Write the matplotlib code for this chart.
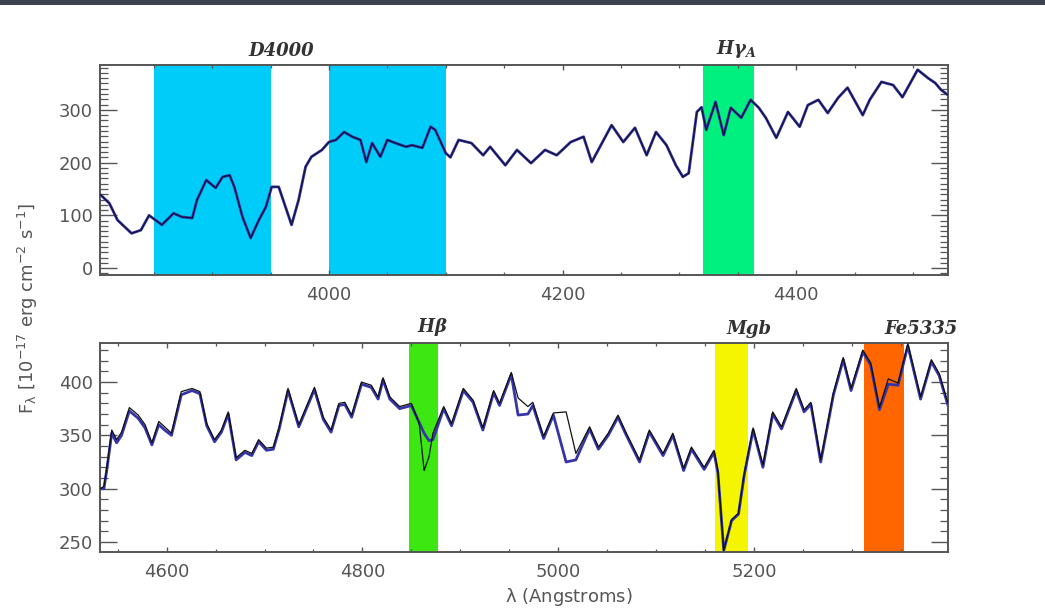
import matplotlib
matplotlib.use("Agg")
import matplotlib.pyplot as plt
from matplotlib.ticker import MultipleLocator
from matplotlib.patches import Rectangle

# ---------------- data ----------------
top_wave = [3804, 3812, 3819, 3831, 3839, 3846, 3857, 3867, 3874, 3883, 3887, 3895,
            3903, 3909, 3915, 3919, 3926, 3933, 3940, 3946, 3951, 3957, 3968, 3974,
            3980, 3985, 3994, 4000, 4006, 4013, 4020, 4027, 4032, 4037, 4044, 4050,
            4057, 4066, 4071, 4080, 4087, 4091, 4100, 4104, 4111, 4122, 4132, 4138,
            4151, 4161, 4173, 4185, 4195, 4207, 4218, 4225, 4242, 4252, 4262, 4272,
            4280, 4289, 4297, 4303, 4308, 4315, 4319, 4323, 4331, 4338, 4344, 4353,
            4361, 4368, 4374, 4383, 4393, 4403, 4410, 4419, 4427, 4436, 4444, 4457,
            4463, 4473, 4483, 4491, 4504, 4513, 4519, 4524, 4530]
top_flux = [140, 123, 91, 66, 72, 100, 82, 104, 97, 95, 129, 167,
            152, 173, 176, 154, 97, 57, 91, 116, 154, 154, 82, 129,
            192, 211, 224, 239, 243, 258, 249, 243, 201, 237, 211, 243,
            237, 230, 233, 228, 268, 262, 218, 210, 243, 237, 214, 230,
            195, 224, 199, 224, 214, 239, 249, 201, 271, 239, 266, 214,
            258, 233, 195, 173, 180, 296, 305, 262, 315, 252, 304, 285,
            319, 304, 285, 247, 296, 268, 309, 319, 294, 323, 342, 290,
            319, 353, 347, 324, 376, 360, 351, 338, 328]

bot_wave = [4532, 4536, 4539, 4544, 4549, 4554, 4562, 4571, 4578, 4585, 4592, 4598,
            4605, 4615, 4626, 4634, 4641, 4649, 4656, 4663, 4671, 4680, 4687, 4694,
            4702, 4709, 4715, 4724, 4735, 4751, 4760, 4768, 4776, 4782, 4789, 4799,
            4809, 4816, 4821, 4828, 4838, 4850, 4858, 4863, 4868, 4872, 4883, 4891,
            4903, 4913, 4923, 4934, 4940, 4952, 4959, 4969, 4974, 4985, 4995, 5008,
            5018, 5032, 5041, 5051, 5061, 5069, 5083, 5093, 5107, 5117, 5128, 5136,
            5149, 5159, 5163, 5169, 5177, 5184, 5190, 5199, 5209, 5219, 5228, 5243,
            5251, 5258, 5268, 5281, 5291, 5299, 5311, 5319, 5328, 5337, 5347, 5357,
            5370, 5381, 5389, 5398]
bot_flux = [300, 302, 320, 355, 346, 353, 376, 369, 360, 343, 363, 358,
            352, 391, 394, 391, 361, 346, 355, 372, 329, 336, 333, 346,
            338, 339, 358, 394, 360, 395, 367, 355, 380, 381, 369, 400,
            397, 386, 404, 386, 377, 380, 361, 317, 330, 352, 377, 361,
            394, 383, 357, 392, 380, 409, 385, 377, 381, 349, 371, 372,
            333, 358, 339, 352, 369, 353, 327, 355, 333, 352, 319, 339,
            320, 336, 317, 242, 271, 277, 315, 357, 322, 372, 358, 394,
            374, 381, 327, 390, 423, 394, 430, 418, 376, 403, 399, 436,
            386, 421, 408, 380]
bot_model = [300, 300, 318, 352, 343, 350, 373, 366, 357, 341, 360, 355,
             350, 388, 392, 389, 359, 344, 353, 370, 327, 334, 331, 344,
             336, 337, 356, 392, 358, 393, 365, 353, 378, 379, 367, 398,
             395, 384, 402, 384, 375, 378, 362, 352, 345, 346, 375, 359,
             392, 381, 355, 390, 378, 407, 369, 370, 378, 347, 369, 325,
             327, 356, 337, 350, 367, 351, 325, 353, 331, 350, 317, 337,
             318, 334, 315, 242, 270, 276, 313, 355, 320, 370, 356, 392,
             372, 379, 325, 388, 421, 392, 428, 416, 374, 398, 397, 434,
             384, 419, 406, 378]

top_bands = [(3850, 3950, '#00ccfa'), (4000, 4100, '#00ccfa'), (4320, 4364, '#00f07f')]
bot_bands = [(4848, 4877, '#3de812'), (5160, 5194, '#f5f500'), (5312, 5353, '#ff6600')]
top_labels = [(3959, 'D4000'), (4349, r'$H\gamma_A$')]
bot_labels = [(4872, r'$H\beta$'), (5195, 'Mgb'), (5370, 'Fe5335')]

top_xlim = (3804, 4530)
top_ylim = (-13, 385)
bot_xlim = (4532, 5398)
bot_ylim = (240.6, 436.6)

# ---------------- style ----------------
plt.rcParams['mathtext.fontset'] = 'custom'
plt.rcParams['mathtext.rm'] = 'DejaVu Sans'
plt.rcParams['mathtext.it'] = 'DejaVu Serif:italic:bold'
plt.rcParams['mathtext.bf'] = 'DejaVu Serif:bold'

W, H = 1045, 613
fig = plt.figure(figsize=(W / 100, H / 100), dpi=100)
fig.patch.set_facecolor('white')

# dark header strip
fig.patches.append(Rectangle((0, 1 - 5 / H), 1, 5 / H, transform=fig.transFigure,
                             facecolor='#3d4250', edgecolor='none'))

ax_left, ax_w = 100 / W, 848 / W
ax1 = fig.add_axes([ax_left, 1 - 275 / H, ax_w, 210 / H])
ax2 = fig.add_axes([ax_left, 1 - 552 / H, ax_w, 209 / H])

spine_col = '#555555'
label_col = '#555555'


def style(ax, xmaj, ymaj):
    for s in ax.spines.values():
        s.set_color(spine_col)
        s.set_linewidth(1.4)
    ax.xaxis.set_major_locator(MultipleLocator(xmaj))
    ax.xaxis.set_minor_locator(MultipleLocator(50))
    ax.yaxis.set_major_locator(MultipleLocator(ymaj))
    ax.yaxis.set_minor_locator(MultipleLocator(10))
    ax.tick_params(axis='both', which='both', direction='in', top=True, right=True,
                   colors=spine_col, labelcolor=label_col, labelsize=13)
    ax.tick_params(axis='y', which='major', length=12.5, width=1.0, pad=5)
    ax.tick_params(axis='y', which='minor', length=6, width=0.9)
    ax.tick_params(axis='x', which='major', length=3.5, width=1.0, pad=8)
    ax.tick_params(axis='x', which='minor', length=2, width=0.9)


# top panel
for lo, hi, c in top_bands:
    ax1.axvspan(lo, hi, color=c, lw=0, zorder=0)
ax1.plot(top_wave, top_flux, color='#3535a8', lw=2.0, zorder=2)
ax1.plot(top_wave, top_flux, color='#111133', lw=0.8, zorder=3)
ax1.set_xlim(*top_xlim)
ax1.set_ylim(*top_ylim)
style(ax1, 200, 100)
for x, t in top_labels:
    ax1.text(x, top_ylim[1] + 10, t, ha='center', va='bottom', fontsize=13,
             family='DejaVu Serif', style='italic', weight='bold', color='#333333')

# bottom panel
for lo, hi, c in bot_bands:
    ax2.axvspan(lo, hi, color=c, lw=0, zorder=0)
ax2.plot(bot_wave, bot_model, color='#3535a8', lw=2.0, zorder=2)
ax2.plot(bot_wave, bot_flux, color='#111111', lw=0.9, zorder=3)
ax2.set_xlim(*bot_xlim)
ax2.set_ylim(*bot_ylim)
style(ax2, 200, 50)
for x, t in bot_labels:
    ax2.text(x, bot_ylim[1] + 5, t, ha='center', va='bottom', fontsize=13,
             family='DejaVu Serif', style='italic', weight='bold', color='#333333')

fig.text(569 / W, 1 - 597 / H, r'$\mathrm{\lambda}$ (Angstroms)', ha='center', va='center',
         fontsize=13, color=label_col)
fig.text(28 / W, 1 - 308 / H,
         r'F$_{\mathrm{\lambda}}$ [10$^{-17}$ erg cm$^{-2}$ s$^{-1}$]',
         rotation=90, ha='center', va='center', fontsize=13, color=label_col)

fig.savefig('out.png', dpi=100)
